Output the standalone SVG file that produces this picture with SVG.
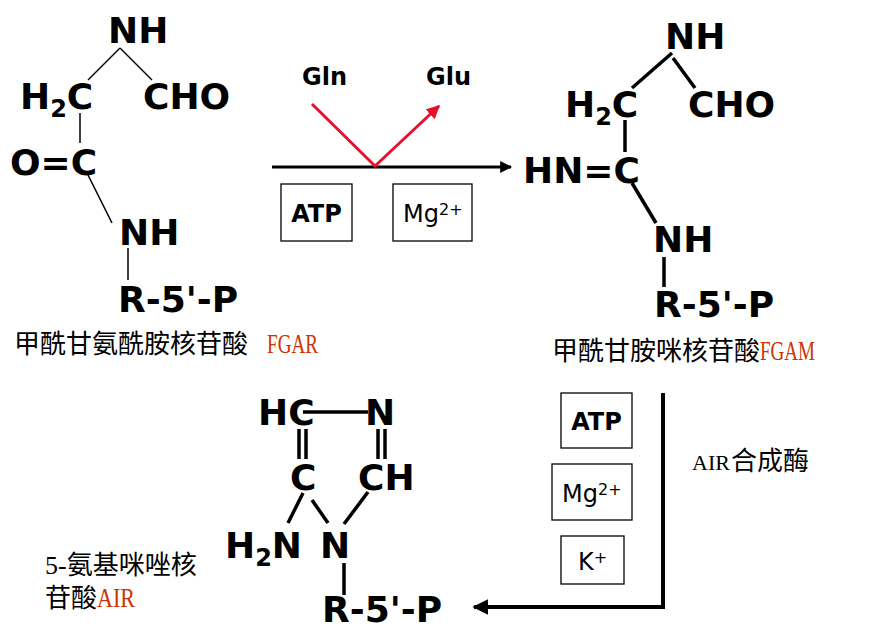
<svg xmlns="http://www.w3.org/2000/svg" width="883" height="641" viewBox="0 0 883 641">
<defs>
<style>
.f{font-family:"DejaVu Sans","Liberation Sans",sans-serif;font-weight:bold;font-size:36px;fill:#000}
.s{font-size:24px}
.lab{font-family:"DejaVu Sans","Liberation Sans",sans-serif;font-weight:bold;font-size:24px;fill:#000}
.ion{font-family:"DejaVu Sans","Liberation Sans",sans-serif;font-size:24px;fill:#000}
.sup{font-size:16px}
.cn{font-family:"Liberation Serif","Noto Sans CJK SC",serif;font-size:26px;fill:#000}
.red{fill:#CC3300;font-size:28px}
.thin{stroke:#000;stroke-width:1.5;fill:none}
.bond{stroke:#000;stroke-width:3.5;fill:none}
.box{fill:#fff;stroke:#000;stroke-width:1.3}
</style>
<marker id="ab" viewBox="0 0 10 10" refX="9" refY="5" markerWidth="4" markerHeight="4" orient="auto" markerUnits="strokeWidth"><path d="M0,0 L10,5 L0,10 z" fill="#000"/></marker>
<marker id="ar" viewBox="0 0 10 10" refX="9" refY="5" markerWidth="4.5" markerHeight="4.5" orient="auto" markerUnits="strokeWidth"><path d="M0,0 L10,5 L0,10 z" fill="#E8112D"/></marker>
</defs>

<g id="FGAR">
<text class="f" x="108" y="43">NH</text>
<text class="f" x="20" y="109">H<tspan class="s" dy="8">2</tspan><tspan dy="-8">C</tspan></text>
<text class="f" x="143" y="109">CHO</text>
<text class="f" x="10" y="175">O=C</text>
<text class="f" x="119" y="245">NH</text>
<text class="f" x="118" y="312">R-5'-P</text>
<line class="thin" x1="120" y1="48" x2="88" y2="80"/>
<line class="thin" x1="120" y1="48" x2="152" y2="80"/>
<line class="thin" x1="80" y1="113" x2="80" y2="143"/>
<line class="thin" x1="88" y1="175" x2="112" y2="223"/>
<line class="thin" x1="128" y1="248" x2="128" y2="280"/>
<text class="cn" x="14" y="353">甲酰甘氨酰胺核苷酸</text>
<text class="cn red" x="267" y="353" textLength="51" lengthAdjust="spacingAndGlyphs">FGAR</text>
</g>

<g id="FGAM">
<text class="f" x="665" y="49">NH</text>
<text class="f" x="565" y="117">H<tspan class="s" dy="8">2</tspan><tspan dy="-8">C</tspan></text>
<text class="f" x="688" y="117">CHO</text>
<text class="f" x="523" y="183">HN=C</text>
<text class="f" x="653" y="252">NH</text>
<text class="f" x="654" y="317">R-5'-P</text>
<line class="bond" x1="672" y1="53" x2="632" y2="88"/>
<line class="bond" x1="673" y1="58" x2="695" y2="88"/>
<line class="bond" x1="625" y1="120" x2="625" y2="152"/>
<line class="bond" x1="632" y1="183" x2="656" y2="223"/>
<line class="bond" x1="664" y1="257" x2="664" y2="287"/>
<text class="cn" x="552" y="360">甲酰甘胺咪核苷酸</text>
<text class="cn red" x="760" y="360" textLength="55" lengthAdjust="spacingAndGlyphs">FGAM</text>
</g>

<g id="AIR">
<text class="f" x="258" y="425">HC</text>
<text class="f" x="365" y="425">N</text>
<text class="f" x="290" y="490">C</text>
<text class="f" x="358" y="490">CH</text>
<text class="f" x="225" y="558">H<tspan class="s" dy="8">2</tspan><tspan dy="-8">N</tspan></text>
<text class="f" x="320" y="558">N</text>
<text class="f" x="322" y="622">R-5'-P</text>
<line class="bond" x1="303" y1="412" x2="368" y2="412"/>
<line class="bond" x1="299" y1="429" x2="299" y2="459"/>
<line class="bond" x1="306" y1="429" x2="306" y2="459"/>
<line class="bond" x1="378" y1="429" x2="378" y2="459"/>
<line class="bond" x1="385" y1="429" x2="385" y2="459"/>
<line class="bond" x1="303" y1="493" x2="288" y2="523"/>
<line class="bond" x1="312" y1="500" x2="328" y2="523"/>
<line class="bond" x1="368" y1="492" x2="344" y2="524"/>
<line class="bond" x1="344" y1="563" x2="344" y2="595"/>
<text class="cn" x="45" y="574">5-氨基咪唑核</text>
<text class="cn" x="45" y="607">苷酸</text>
<text class="cn red" x="97" y="607" textLength="38" lengthAdjust="spacingAndGlyphs">AIR</text>
</g>

<g id="step1">
<text class="lab" x="302" y="85">Gln</text>
<text class="lab" x="426" y="85">Glu</text>
<rect class="box" x="281" y="184" width="71" height="57"/>
<text class="lab" x="316.5" y="222" text-anchor="middle">ATP</text>
<rect class="box" x="393" y="184" width="79" height="57"/>
<text class="ion" x="403" y="222">Mg<tspan class="sup" dy="-7">2+</tspan></text>
</g>

<g id="step2">
<rect class="box" x="561" y="393" width="71" height="55"/>
<text class="lab" x="596.5" y="430" text-anchor="middle">ATP</text>
<rect class="box" x="552" y="464" width="80" height="56"/>
<text class="ion" x="562" y="502">Mg<tspan class="sup" dy="-7">2+</tspan></text>
<rect class="box" x="561" y="536" width="63" height="48"/>
<text class="ion" x="578" y="570">K<tspan class="sup" dy="-7">+</tspan></text>
<text class="cn" x="692" y="470" style="font-size:22px">AIR</text>
<text class="cn" x="731" y="470">合成酶</text>
</g>

<g id="connectors">
<line x1="272" y1="167" x2="511" y2="167" stroke="#000" stroke-width="3" marker-end="url(#ab)"/>
<polyline points="312,104 375,166 439,106" fill="none" stroke="#E8112D" stroke-width="3" marker-end="url(#ar)"/>
<polyline points="663,393 663,607 474,607" fill="none" stroke="#000" stroke-width="4" stroke-linejoin="miter" marker-end="url(#ab)"/>
</g>
</svg>
